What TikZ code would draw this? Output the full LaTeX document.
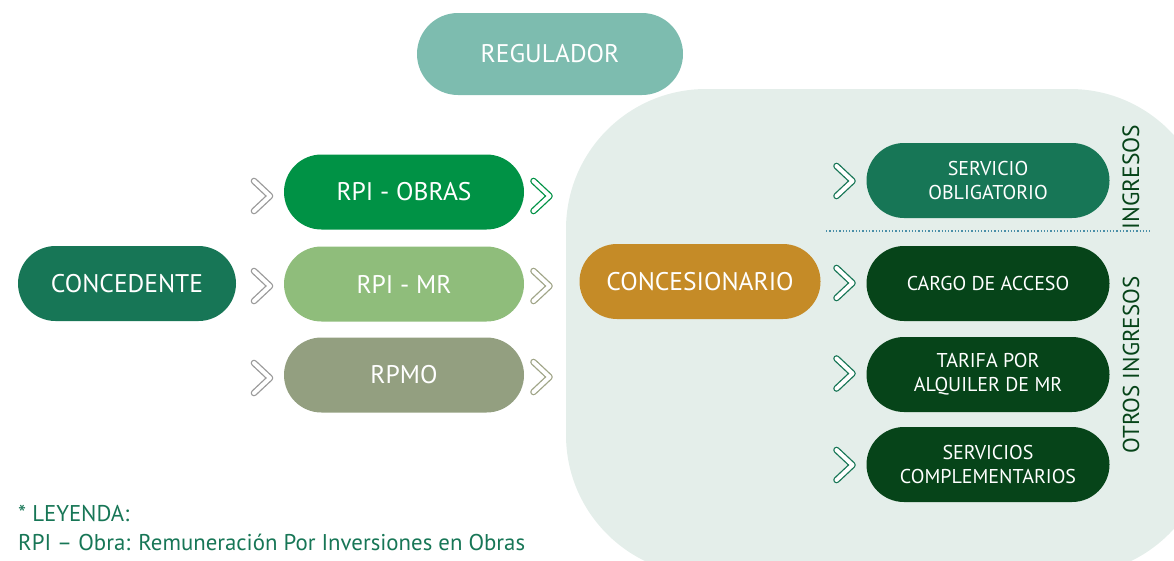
\documentclass[tikz,border=0pt]{standalone}
\usepackage{fontspec}
\setmainfont{PT Sans}
\usetikzlibrary{positioning}

\definecolor{fondo}{HTML}{E4EEEA}
\definecolor{regulador}{HTML}{7DBCAF}
\definecolor{verdeosc}{HTML}{177656}
\definecolor{verde}{HTML}{009245}
\definecolor{verdeclaro}{HTML}{8FBD7B}
\definecolor{oliva}{HTML}{939F80}
\definecolor{ocre}{HTML}{C58B27}
\definecolor{bosque}{HTML}{064419}
\definecolor{gris}{HTML}{9A9A9A}
\definecolor{grisverde}{HTML}{A0A588}
\definecolor{puntos}{HTML}{4A8FA8}

\tikzset{
  caja/.style={rounded corners=37.5pt, minimum width=240pt, minimum height=75pt,
    inner sep=0pt, text=white, align=center, font=\fontsize{25.5}{28}\selectfont},
  cajita/.style={caja, minimum width=243pt, font=\fontsize{20}{24}\selectfont},
  chevron/.style={line width=1.3pt, double=white, double distance=4pt,
    line cap=round, line join=round},
  pics/chev/.style={code={\draw[chevron,draw=#1] (-8,-15) -- (8,0) -- (-8,15);}},
}

\begin{document}
\begin{tikzpicture}[x=1pt,y=-1pt]
\clip (0,0) rectangle (1174,560);
\fill[fondo, rounded corners=140pt] (566,89) rectangle (1210,575);

% actores
\node[caja, fill=regulador, minimum width=266pt, minimum height=82pt, rounded corners=41pt] (regulador) at (550,54) {REGULADOR};
\node[caja, fill=verdeosc, minimum width=218pt] (concedente) at (127,283.5) {CONCEDENTE};
\node[caja, fill=ocre, minimum width=241pt] (concesionario) at (700,281.5) {CONCESIONARIO};

% remuneraciones
\node[caja, fill=verde] (obras) at (404,192) {RPI - OBRAS};
\node[caja, fill=verdeclaro] (mr) at (404,284) {RPI - MR};
\node[caja, fill=oliva] (rpmo) at (404,375) {RPMO};

% ingresos
\node[cajita, fill=verdeosc] (obligatorio) at (988,180.5) {SERVICIO\\OBLIGATORIO};
\node[cajita, fill=bosque] (cargo) at (988,283.5) {CARGO DE ACCESO};
\node[cajita, fill=bosque] (tarifa) at (988,374.5) {TARIFA POR\\ALQUILER DE MR};
\node[cajita, fill=bosque] (complementarios) at (988,464.5) {SERVICIOS\\COMPLEMENTARIOS};

% flechas
\pic at (262,196) {chev=gris};
\pic at (262,286) {chev=gris};
\pic at (262,378) {chev=gris};
\pic at (541.5,196) {chev=verde};
\pic at (541.5,286) {chev=grisverde};
\pic at (541.5,377) {chev=grisverde};
\pic at (844.5,181) {chev=verdeosc};
\pic at (844.5,283) {chev=verdeosc};
\pic at (844.5,373.5) {chev=verdeosc};
\pic at (844.5,465) {chev=verdeosc};

\coordinate (sepA) at (826,231);
\coordinate (sepB) at (1150,231);
\draw[puntos, dotted, line width=1.3pt] (sepA) -- (sepB);

\node[rotate=90, text=bosque, font=\fontsize{23.5}{26}\selectfont] (ingresos) at (1131,177) {INGRESOS};
\node[rotate=90, text=bosque, font=\fontsize{23}{26}\selectfont] (otros) at (1131,365) {OTROS INGRESOS};

% leyenda
\node[anchor=base west, inner sep=0pt, text=verdeosc, font=\fontsize{22.8}{26}\selectfont] (leyenda) at (18,521) {* LEYENDA:};
\node[anchor=base west, inner sep=0pt, text=verdeosc, font=\fontsize{22.8}{26}\selectfont] (rpi) at (18,550) {RPI – Obra: Remuneración Por Inversiones en Obras};
\end{tikzpicture}
\end{document}
